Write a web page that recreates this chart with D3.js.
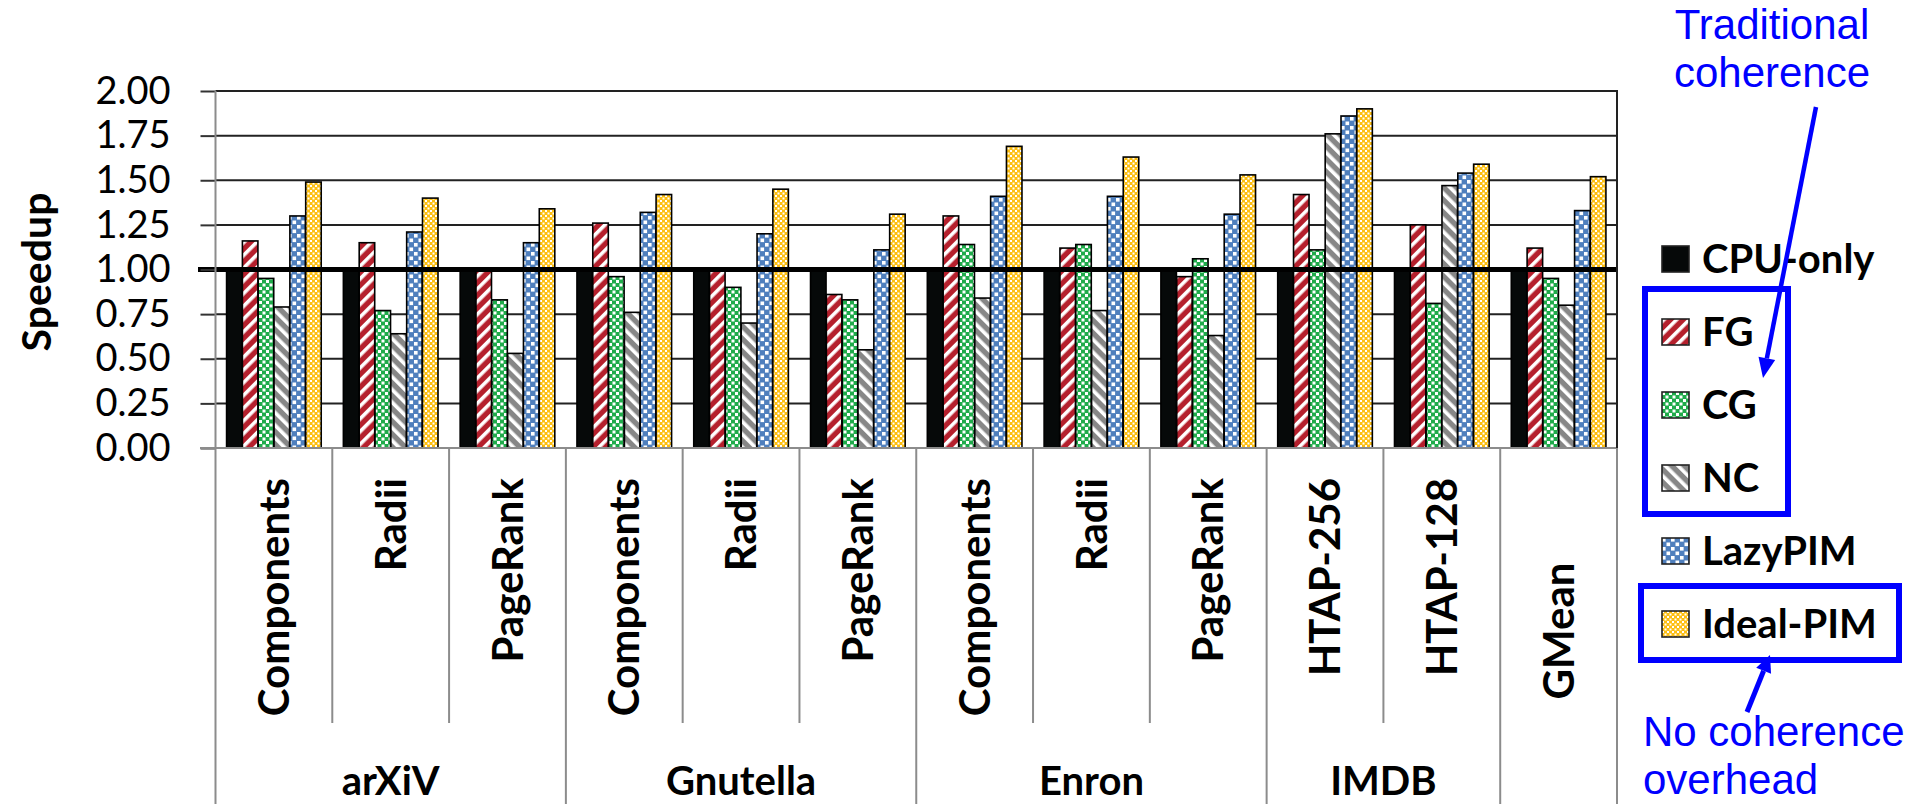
<!DOCTYPE html>
<html lang="en">
<head>
    <meta charset="UTF-8">
    <title>Speedup - LazyPIM</title>
    <script src="https://d3js.org/d3.v7.min.js"></script>
    <style>
        body { margin: 0; background: #fff; }
        svg { display: block; }
        .lbl { font-family: Lato, "Open Sans", sans-serif; font-weight: bold; fill: #000; }
        .tick-lbl { font-family: Lato, "Open Sans", sans-serif; font-size: 38px; fill: #000; }
        .note { font-family: "Liberation Sans", Arial, sans-serif; font-size: 42px; fill: #0000ff; }
    </style>
</head>
<body>
    <svg id="chart" width="1915" height="804"></svg>

    <script>
        // benchmarks along the x axis
        const categories = ["Components", "Radii", "PageRank", "Components", "Radii", "PageRank",
                            "Components", "Radii", "PageRank", "HTAP-256", "HTAP-128", "GMean"];
        const groupNames = ["arXiV", "Gnutella", "Enron", "IMDB", ""];
        const groupSpans = [3, 3, 3, 2, 1];

        const seriesNames = ["CPU-only", "FG", "CG", "NC", "LazyPIM", "Ideal-PIM"];
        const cpuOnly  = [1.00, 1.00, 1.00, 1.00, 1.00, 1.00, 1.00, 1.00, 1.00, 1.00, 1.00, 1.00];
        const fg       = [1.16, 1.15, 1.00, 1.26, 1.00, 0.86, 1.30, 1.12, 0.96, 1.42, 1.25, 1.12];
        const cg       = [0.95, 0.77, 0.83, 0.96, 0.90, 0.83, 1.14, 1.14, 1.06, 1.11, 0.81, 0.95];
        const nc       = [0.79, 0.64, 0.53, 0.76, 0.70, 0.55, 0.84, 0.77, 0.63, 1.76, 1.47, 0.80];
        const lazyPim  = [1.30, 1.21, 1.15, 1.32, 1.20, 1.11, 1.41, 1.41, 1.31, 1.86, 1.54, 1.33];
        const idealPim = [1.49, 1.40, 1.34, 1.42, 1.45, 1.31, 1.69, 1.63, 1.53, 1.90, 1.59, 1.52];
        const yTicks = [0, 0.25, 0.5, 0.75, 1, 1.25, 1.5, 1.75, 2];

        const seriesValues = [cpuOnly, fg, cg, nc, lazyPim, idealPim];

        const plotLeft = 215.5, plotRight = 1617, plotTop = 91, plotBottom = 448;
        const svgBottom = 804;

        const svg = d3.select("#chart");
        const defs = svg.append("defs");

        // fill patterns, roughly the Excel ones
        function stripes(id, color, angle) {
            const p = defs.append("pattern").attr("id", id)
                .attr("patternUnits", "userSpaceOnUse")
                .attr("width", 9).attr("height", 9)
                .attr("patternTransform", `rotate(${angle})`);
            p.append("rect").attr("width", 9).attr("height", 9).attr("fill", color);
            p.append("rect").attr("width", 3.6).attr("height", 9).attr("fill", "#fff");
        }
        function checks(id, color, size, sq) {
            const p = defs.append("pattern").attr("id", id)
                .attr("patternUnits", "userSpaceOnUse")
                .attr("width", size).attr("height", size);
            p.append("rect").attr("width", size).attr("height", size).attr("fill", color);
            p.append("rect").attr("x", 0).attr("y", 0).attr("width", sq).attr("height", sq).attr("fill", "#fff");
            p.append("rect").attr("x", size / 2).attr("y", size / 2).attr("width", sq).attr("height", sq).attr("fill", "#fff");
        }
        stripes("pat-fg", "#b5202d", 45);
        checks("pat-cg", "#1fab4a", 7, 3);
        stripes("pat-nc", "#878787", -45);
        checks("pat-lazy", "#4f7fbd", 9, 3.6);
        checks("pat-ideal", "#fdbf12", 5, 2);

        const fills = ["#060909", "url(#pat-fg)", "url(#pat-cg)", "url(#pat-nc)", "url(#pat-lazy)", "url(#pat-ideal)"];

        const x = d3.scaleBand().domain(d3.range(categories.length)).range([plotLeft, plotRight]).padding(0);
        const xs = d3.scaleBand().domain(seriesNames).range([0, x.bandwidth()]).paddingOuter(0.7).paddingInner(0.02);
        const y = d3.scaleLinear().domain([0, 2]).range([plotBottom, plotTop]);

        // gridlines
        svg.append("g").selectAll("line")
            .data(yTicks.filter(d => d > 0))
            .enter().append("line")
            .attr("x1", plotLeft).attr("x2", plotRight)
            .attr("y1", d => y(d)).attr("y2", d => y(d))
            .attr("stroke", "#222").attr("stroke-width", 2);

        // bars
        const barG = svg.append("g");
        seriesNames.forEach((s, si) => {
            barG.append("g").selectAll("rect")
                .data(seriesValues[si])
                .enter().append("rect")
                .attr("x", (d, i) => x(i) + xs(s))
                .attr("width", xs.bandwidth())
                .attr("y", d => y(d))
                .attr("height", d => y(0) - y(d))
                .attr("fill", fills[si])
                .attr("stroke", "#000")
                .attr("stroke-width", 1.6);
        });

        // thick baseline at 1.0
        svg.append("line")
            .attr("x1", 198).attr("x2", plotRight)
            .attr("y1", y(1)).attr("y2", y(1))
            .attr("stroke", "#000").attr("stroke-width", 5);

        // y axis
        const yAxis = d3.axisLeft(y).tickValues(yTicks).tickSize(15).tickPadding(30)
            .tickFormat(d3.format(".2f"));
        const yg = svg.append("g").attr("transform", `translate(${plotLeft},0)`).call(yAxis);
        yg.select(".domain").remove();
        yg.selectAll(".tick line").attr("stroke", "#333").attr("stroke-width", 2);
        yg.selectAll(".tick text").attr("class", "tick-lbl").attr("font-size", null).attr("font-family", null);

        // frame: left axis, bottom axis, right border
        svg.append("line").attr("x1", plotLeft).attr("x2", plotLeft).attr("y1", plotTop).attr("y2", svgBottom)
            .attr("stroke", "#8c8c8c").attr("stroke-width", 2);
        svg.append("line").attr("x1", 200).attr("x2", plotRight).attr("y1", plotBottom).attr("y2", plotBottom)
            .attr("stroke", "#8c8c8c").attr("stroke-width", 2);
        svg.append("line").attr("x1", plotRight).attr("x2", plotRight).attr("y1", plotTop - 1).attr("y2", plotBottom)
            .attr("stroke", "#222").attr("stroke-width", 2);

        // category separators (short inside groups, long between groups)
        const groupEnds = d3.cumsum(groupSpans);
        svg.append("g").selectAll("line")
            .data(d3.range(1, categories.length + 1))
            .enter().append("line")
            .attr("x1", i => i < categories.length ? x(i) : plotRight)
            .attr("x2", i => i < categories.length ? x(i) : plotRight)
            .attr("y1", plotBottom)
            .attr("y2", i => groupEnds.includes(i) ? svgBottom : 723)
            .attr("stroke", "#8c8c8c").attr("stroke-width", 2);

        // category labels
        svg.append("g").selectAll("text")
            .data(categories)
            .enter().append("text")
            .attr("class", "lbl")
            .attr("font-size", 42)
            .attr("transform", (d, i) => {
                const cx = x(i) + x.bandwidth() / 2;
                return `translate(${cx},${d === "GMean" ? 631 : 478}) rotate(-90)`;
            })
            .attr("text-anchor", d => d === "GMean" ? "middle" : "end")
            .attr("dy", "0.36em")
            .text(d => d);

        // group labels
        const groupStarts = groupEnds.map((e, i) => e - groupSpans[i]);
        svg.append("g").selectAll("text")
            .data(groupNames)
            .enter().append("text")
            .attr("class", "lbl")
            .attr("font-size", 40)
            .attr("text-anchor", "middle")
            .attr("x", (d, i) => (x(groupStarts[i]) + x(groupEnds[i] - 1) + x.bandwidth()) / 2)
            .attr("y", 795)
            .text(d => d);

        // y title
        svg.append("text")
            .attr("class", "lbl")
            .attr("font-size", 41)
            .attr("text-anchor", "middle")
            .attr("transform", "translate(51,272) rotate(-90)")
            .text("Speedup");

        // legend
        const legend = svg.append("g").selectAll("g")
            .data(seriesNames)
            .enter().append("g")
            .attr("transform", (d, i) => `translate(1662,${246 + i * 73})`);
        legend.append("rect")
            .attr("width", 27).attr("height", 26)
            .attr("fill", (d, i) => fills[i])
            .attr("stroke", "#222").attr("stroke-width", 1.6);
        legend.append("text")
            .attr("class", "lbl")
            .attr("font-size", 40)
            .attr("x", 40).attr("y", 13).attr("dy", "0.35em")
            .text(d => d);

        // blue annotations
        const blue = "#0000ff";
        svg.append("rect").attr("x", 1645).attr("y", 289).attr("width", 143).attr("height", 225)
            .attr("fill", "none").attr("stroke", blue).attr("stroke-width", 6);
        svg.append("rect").attr("x", 1641).attr("y", 586).attr("width", 258).attr("height", 74)
            .attr("fill", "none").attr("stroke", blue).attr("stroke-width", 6);

        svg.append("text").attr("class", "note").attr("text-anchor", "middle")
            .attr("x", 1772).attr("y", 39).text("Traditional");
        svg.append("text").attr("class", "note").attr("text-anchor", "middle")
            .attr("x", 1772).attr("y", 87).text("coherence");
        svg.append("text").attr("class", "note").attr("x", 1643).attr("y", 746).text("No coherence");
        svg.append("text").attr("class", "note").attr("x", 1643).attr("y", 794).text("overhead");

        function arrow(x1, y1, x2, y2, w, headLen, headW) {
            const a = Math.atan2(y2 - y1, x2 - x1);
            const bx = x2 - headLen * Math.cos(a), by = y2 - headLen * Math.sin(a);
            svg.append("line").attr("x1", x1).attr("y1", y1).attr("x2", bx).attr("y2", by)
                .attr("stroke", blue).attr("stroke-width", w);
            const nx = -Math.sin(a) * headW / 2, ny = Math.cos(a) * headW / 2;
            svg.append("path")
                .attr("d", `M${x2},${y2}L${bx + nx},${by + ny}L${bx - nx},${by - ny}Z`)
                .attr("fill", blue);
        }
        arrow(1816, 107, 1763, 378, 4.5, 20, 17);
        arrow(1747, 712, 1770, 655, 5, 17, 16);
    </script>
</body>
</html>
